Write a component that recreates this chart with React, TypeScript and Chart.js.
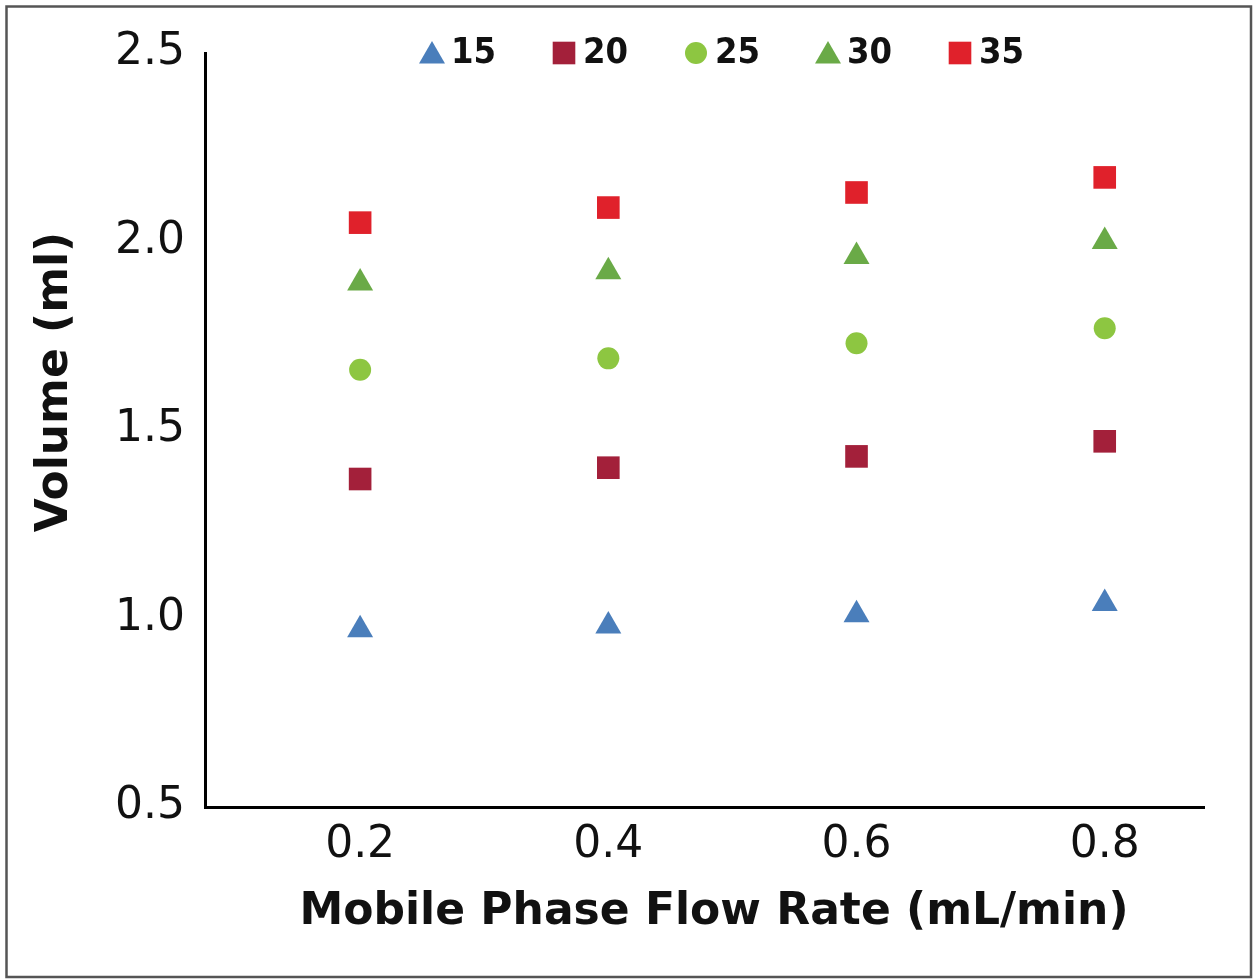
import React, { useEffect, useRef } from 'react';
import { Chart, registerables } from 'chart.js';
import { drawPoint } from 'chart.js/helpers';

Chart.register(...registerables);

// ---- data ----
const flowRates = [0.2, 0.4, 0.6, 0.8];
const seriesLabels = ['15', '20', '25', '30', '35'];
const vol15 = [0.97, 0.98, 1.01, 1.04];
const vol20 = [1.37, 1.4, 1.43, 1.47];
const vol25 = [1.66, 1.69, 1.73, 1.77];
const vol30 = [1.89, 1.92, 1.96, 2.0];
const vol35 = [2.05, 2.09, 2.13, 2.17];
const xTickValues = [0.2, 0.4, 0.6, 0.8];
const yTickValues = [0.5, 1.0, 1.5, 2.0, 2.5];
const xTitle = 'Mobile Phase Flow Rate (mL/min)';
const yTitle = 'Volume (ml)';

const seriesValues = [vol15, vol20, vol25, vol30, vol35];
const seriesColors = ['#4A7EBB', '#A3203A', '#8DC641', '#6AAA47', '#E0212B'];
const seriesShapes = ['triangle', 'rect', 'circle', 'triangle', 'rect'];
const seriesSizes = [15, 16, 11, 15, 16];

const TICK_FONT = 'DejaVu Sans, Verdana, sans-serif';

const framePlugin = {
  id: 'frame',
  beforeDraw(chart: any) {
    const ctx = chart.ctx;
    ctx.save();
    ctx.fillStyle = '#ffffff';
    ctx.fillRect(0, 0, chart.width, chart.height);
    ctx.strokeStyle = '#555555';
    ctx.lineWidth = 2.5;
    ctx.strokeRect(6.5, 6.5, chart.width - 4 - 8.5, chart.height - 3 - 6.5);
    ctx.restore();
  },
};

const legendPlugin = {
  id: 'insideLegend',
  afterDraw(chart: any) {
    const ctx = chart.ctx;
    const area = chart.chartArea;
    ctx.save();
    let x = area.left + 227;
    const y = area.top;
    ctx.font = 'bold 36px "Liberation Sans Narrow", "DejaVu Sans Condensed", "Liberation Sans", sans-serif';
    ctx.textBaseline = 'middle';
    ctx.textAlign = 'left';
    chart.data.datasets.forEach((ds: any) => {
      ctx.fillStyle = ds.backgroundColor;
      drawPoint(ctx, { pointStyle: ds.pointStyle, radius: ds.pointRadius, rotation: 0, borderWidth: 0 } as any, x, y + (ds.pointStyle === 'triangle' ? 3 : 0));
      ctx.fillStyle = '#111111';
      ctx.fillText(ds.label, x + 19, y + 1);
      x += 132;
    });
    ctx.restore();
  },
};

const titlePlugin = {
  id: 'axisTitles',
  afterDraw(chart: any) {
    const ctx = chart.ctx;
    const area = chart.chartArea;
    ctx.save();
    ctx.fillStyle = '#111111';
    ctx.font = 'bold 44px "DejaVu Sans", Verdana, sans-serif';
    ctx.textAlign = 'center';
    ctx.textBaseline = 'middle';
    ctx.fillText(xTitle, area.left + 509, area.bottom + 106);
    ctx.translate(56, area.top + 329);
    ctx.rotate(-Math.PI / 2);
    ctx.fillText(yTitle, 0, 0);
    ctx.restore();
  },
};

export default function App() {
  const canvasRef = useRef<HTMLCanvasElement | null>(null);

  useEffect(() => {
    if (!canvasRef.current) return;
    const datasets = seriesLabels.map((label, i) => ({
      label,
      data: flowRates.map((x, j) => ({ x, y: seriesValues[i][j] })),
      backgroundColor: seriesColors[i],
      borderColor: seriesColors[i],
      borderWidth: 0,
      pointStyle: seriesShapes[i],
      pointRadius: seriesSizes[i],
      pointHoverRadius: seriesSizes[i],
      showLine: false,
    }));
    const chart = new Chart(canvasRef.current, {
      type: 'scatter',
      data: { datasets } as any,
      plugins: [framePlugin, legendPlugin, titlePlugin],
      options: {
        animation: false,
        responsive: false,
        devicePixelRatio: 1,
        layout: { padding: { left: 0, right: 53, top: 53, bottom: 53 } },
        plugins: {
          legend: { display: false },
          tooltip: { enabled: false },
          title: { display: false },
        },
        scales: {
          x: {
            type: 'linear',
            min: 0.075,
            max: 0.88,
            afterBuildTicks: (s: any) => {
              s.ticks = xTickValues.map((v) => ({ value: v }));
            },
            afterFit: (s: any) => {
              s.height = 120;
            },
            grid: { display: false, drawTicks: false },
            border: { display: true, color: '#000000', width: 3 },
            ticks: {
              font: { family: TICK_FONT, size: 44 },
              color: '#111111',
              padding: 12,
              maxRotation: 0,
              autoSkip: false,
              callback: (v: any) => Number(v).toFixed(1),
            },
          },
          y: {
            type: 'linear',
            min: 0.5,
            max: 2.5,
            afterBuildTicks: (s: any) => {
              s.ticks = yTickValues.map((v) => ({ value: v }));
            },
            afterFit: (s: any) => {
              s.width = 205;
            },
            grid: { display: false, drawTicks: false },
            border: { display: true, color: '#000000', width: 3 },
            ticks: {
              font: { family: TICK_FONT, size: 44 },
              color: '#111111',
              padding: 20,
              autoSkip: false,
              callback: (v: any) => Number(v).toFixed(1),
            },
          },
        },
      } as any,
    });
    return () => chart.destroy();
  }, []);

  return (
    <div style={{ position: 'fixed', left: 0, top: 0, width: 1257, height: 980, background: '#fff' }}>
      <canvas ref={canvasRef} width={1257} height={980} style={{ display: 'block' }} />
    </div>
  );
}
